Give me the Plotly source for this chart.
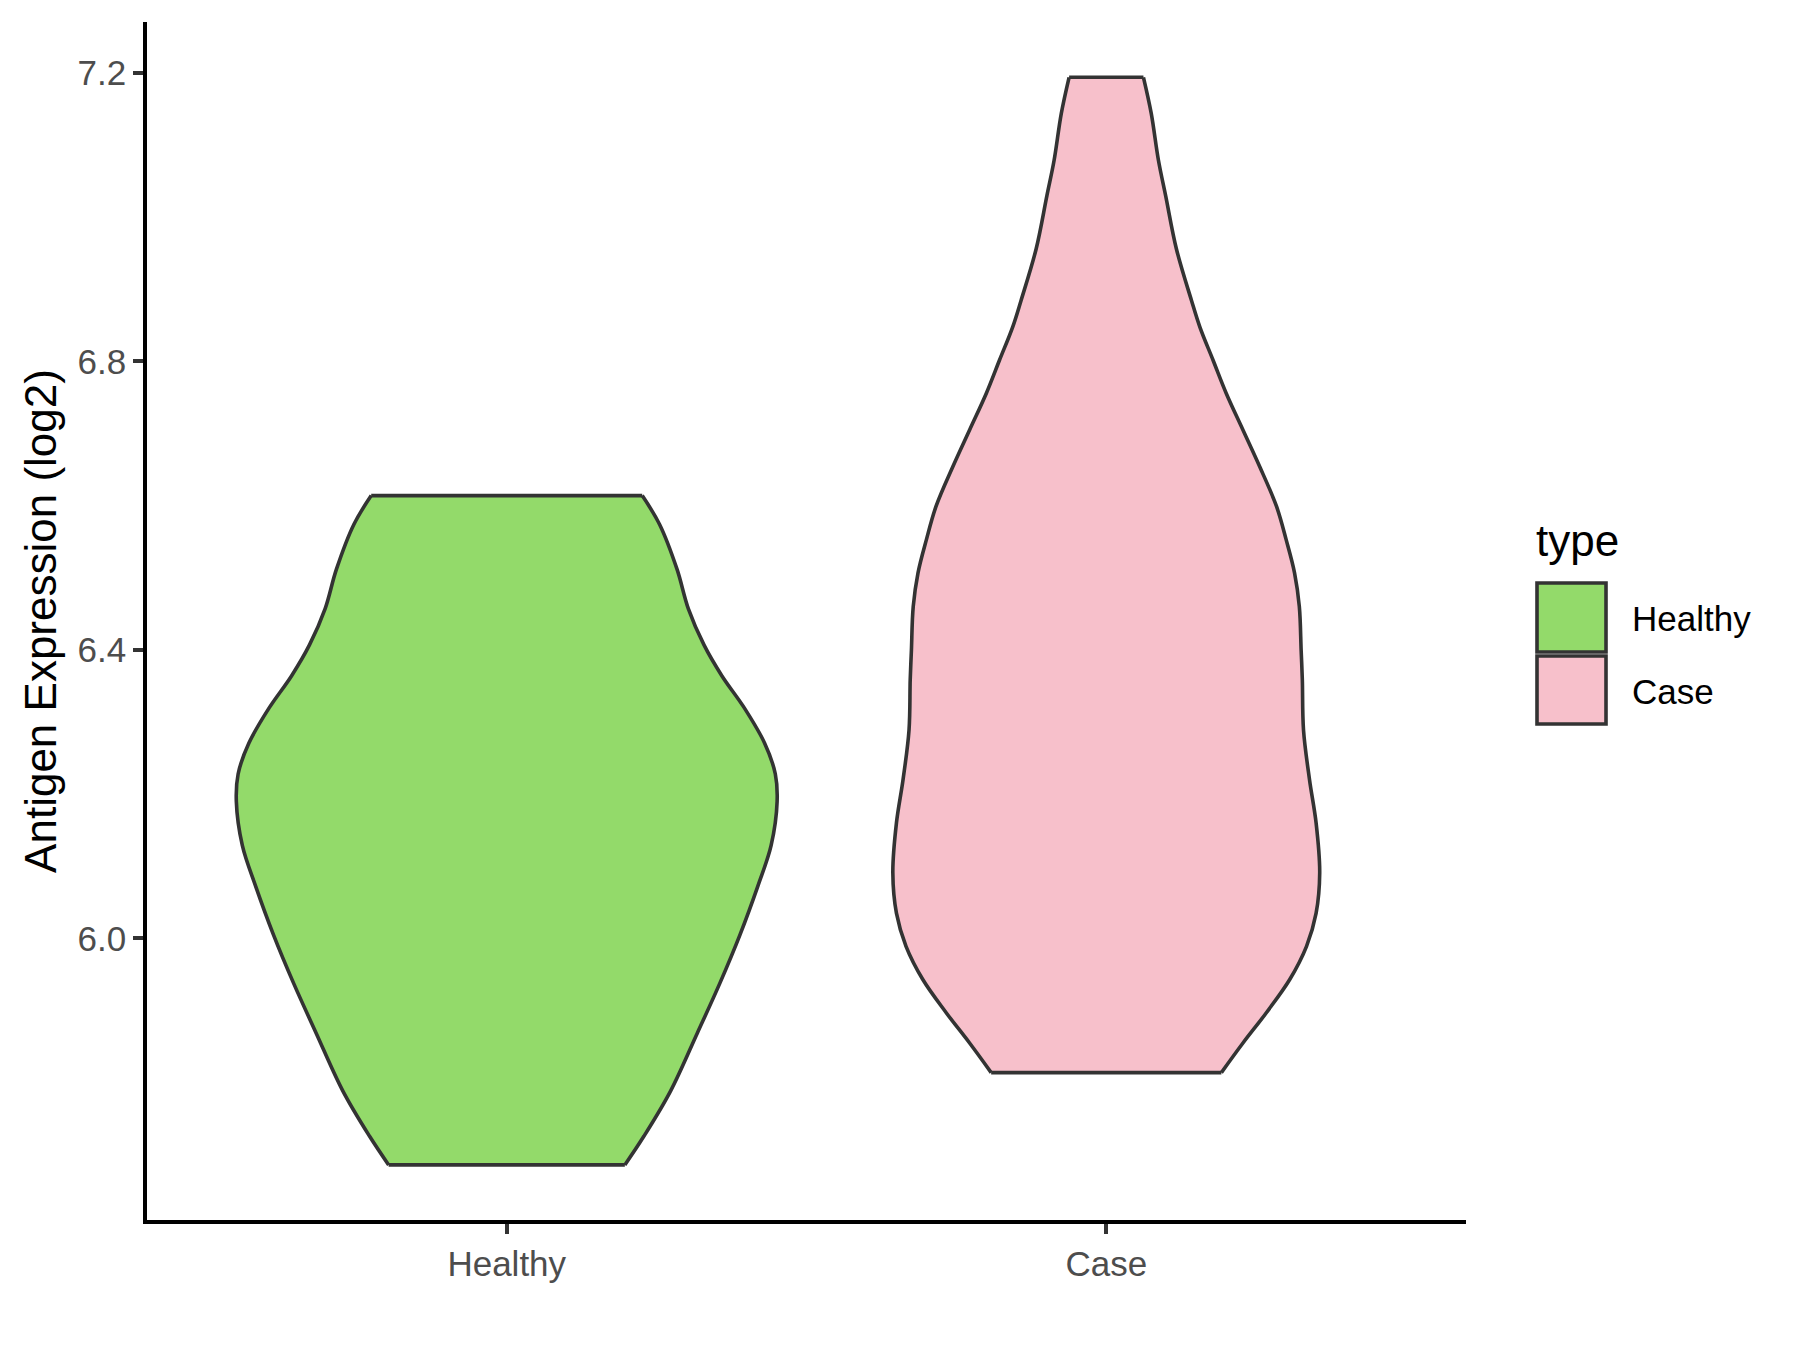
import plotly.graph_objects as go

# ---------------- data ----------------
categories = ["Healthy", "Case"]

# violin outline: expression value (y) and half-width of the violin (category units)
healthy_y = [5.686, 5.726, 5.788, 5.869, 5.937, 6.005, 6.073, 6.129, 6.190,
             6.228, 6.271, 6.320, 6.364, 6.407, 6.457, 6.512, 6.574, 6.614]
healthy_halfwidth = [0.197, 0.229, 0.273, 0.318, 0.355, 0.389, 0.419, 0.441, 0.451,
                     0.448, 0.430, 0.396, 0.359, 0.329, 0.303, 0.284, 0.255, 0.226]

case_y = [5.814, 5.855, 5.897, 5.943, 5.989, 6.035, 6.091, 6.160, 6.220, 6.289,
          6.359, 6.400, 6.460, 6.507, 6.553, 6.599, 6.654, 6.705, 6.756, 6.802,
          6.848, 6.885, 6.956, 7.030, 7.079, 7.144, 7.194]
case_halfwidth = [0.192, 0.228, 0.267, 0.306, 0.334, 0.350, 0.356, 0.350, 0.339, 0.329,
                  0.327, 0.325, 0.322, 0.314, 0.300, 0.284, 0.256, 0.228, 0.200, 0.178,
                  0.156, 0.142, 0.117, 0.099, 0.087, 0.075, 0.062]

y_ticks = [6.0, 6.4, 6.8, 7.2]
y_tick_labels = ["6.0", "6.4", "6.8", "7.2"]
y_title = "Antigen Expression (log2)"
legend_title = "type"

# ---------------- styling ----------------
fill_colors = {"Healthy": "#93DA6A", "Case": "#F7C0CB"}
outline = "#333333"
FONT = "Liberation Sans, Arial, sans-serif"

# page body has an 8px margin, so the figure is laid out shifted by it
OFF = 8
W, H = 1800 - OFF, 1350 - OFF
PX_L, PX_R, PY_T, PY_B = 147 - OFF, 1466 - OFF, 22 - OFF, 1220 - OFF


def paper_x(px):
    return (px - OFF - PX_L) / (PX_R - PX_L)


def paper_y(py):
    return (PY_B - (py - OFF)) / (PY_B - PY_T)


fig = go.Figure()

violins = {
    "Healthy": (healthy_y, healthy_halfwidth),
    "Case": (case_y, case_halfwidth),
}

LW = 3.6
for i, cat in enumerate(categories):
    ys, hw = violins[cat]
    c = i + 1
    left = [c - w for w in hw]
    right = [c + w for w in hw]
    # left edge (bottom -> top)
    fig.add_trace(go.Scatter(
        x=left, y=ys, mode="lines",
        line=dict(color=outline, width=LW, shape="spline", smoothing=1.0),
        showlegend=False, hoverinfo="skip"))
    # right edge (bottom -> top), filled across to the left edge
    fig.add_trace(go.Scatter(
        x=right, y=ys, mode="lines", fill="tonextx",
        fillcolor=fill_colors[cat],
        line=dict(color=outline, width=LW, shape="spline", smoothing=1.0),
        name=cat, showlegend=False, hoverinfo="skip"))
    # flat ends of the violin
    for k in (0, -1):
        fig.add_trace(go.Scatter(
            x=[left[k], right[k]], y=[ys[k], ys[k]], mode="lines",
            line=dict(color=outline, width=LW),
            showlegend=False, hoverinfo="skip"))

# ---------------- legend drawn as shapes / text ----------------
key_x0, key_x1 = 1537, 1606
key_rows = [(583, 652), (656, 724)]
shapes = []
annotations = []
for cat, (y0, y1) in zip(categories, key_rows):
    shapes.append(dict(
        type="rect", xref="paper", yref="paper",
        x0=paper_x(key_x0), x1=paper_x(key_x1),
        y0=paper_y(y1), y1=paper_y(y0),
        fillcolor=fill_colors[cat], line=dict(color=outline, width=3.6)))
    annotations.append(dict(
        xref="paper", yref="paper", x=paper_x(1630), y=paper_y((y0 + y1) / 2 + 1),
        xanchor="left", yanchor="middle", showarrow=False, text=cat,
        font=dict(family=FONT, size=35, color="black")))
annotations.append(dict(
    xref="paper", yref="paper", x=paper_x(1534), y=paper_y(540),
    xanchor="left", yanchor="middle", showarrow=False, text=legend_title,
    font=dict(family=FONT, size=44, color="black")))

fig.update_layout(
    width=W, height=H,
    margin=dict(l=PX_L, r=W - PX_R, t=PY_T, b=H - PY_B, pad=0),
    paper_bgcolor="white", plot_bgcolor="white",
    font=dict(family=FONT),
    showlegend=False,
    shapes=shapes, annotations=annotations,
)

fig.update_xaxes(
    range=[0.4, 2.6], tickvals=[1, 2], ticktext=categories,
    showline=True, linecolor="black", linewidth=3.5,
    ticks="outside", ticklen=10, tickwidth=3.5, tickcolor=outline,
    tickfont=dict(family=FONT, size=35, color="#4D4D4D"),
    showgrid=False, zeroline=False,
)
fig.update_yaxes(
    range=[5.6096, 7.2707], tickvals=y_ticks, ticktext=y_tick_labels,
    showline=True, linecolor="black", linewidth=3.5,
    ticks="outside", ticklen=10, tickwidth=3.5, tickcolor=outline,
    tickfont=dict(family=FONT, size=35, color="#4D4D4D"),
    title=dict(text=y_title, font=dict(family=FONT, size=44, color="black"), standoff=8),
    showgrid=False, zeroline=False,
)

fig.write_html("out.html")
